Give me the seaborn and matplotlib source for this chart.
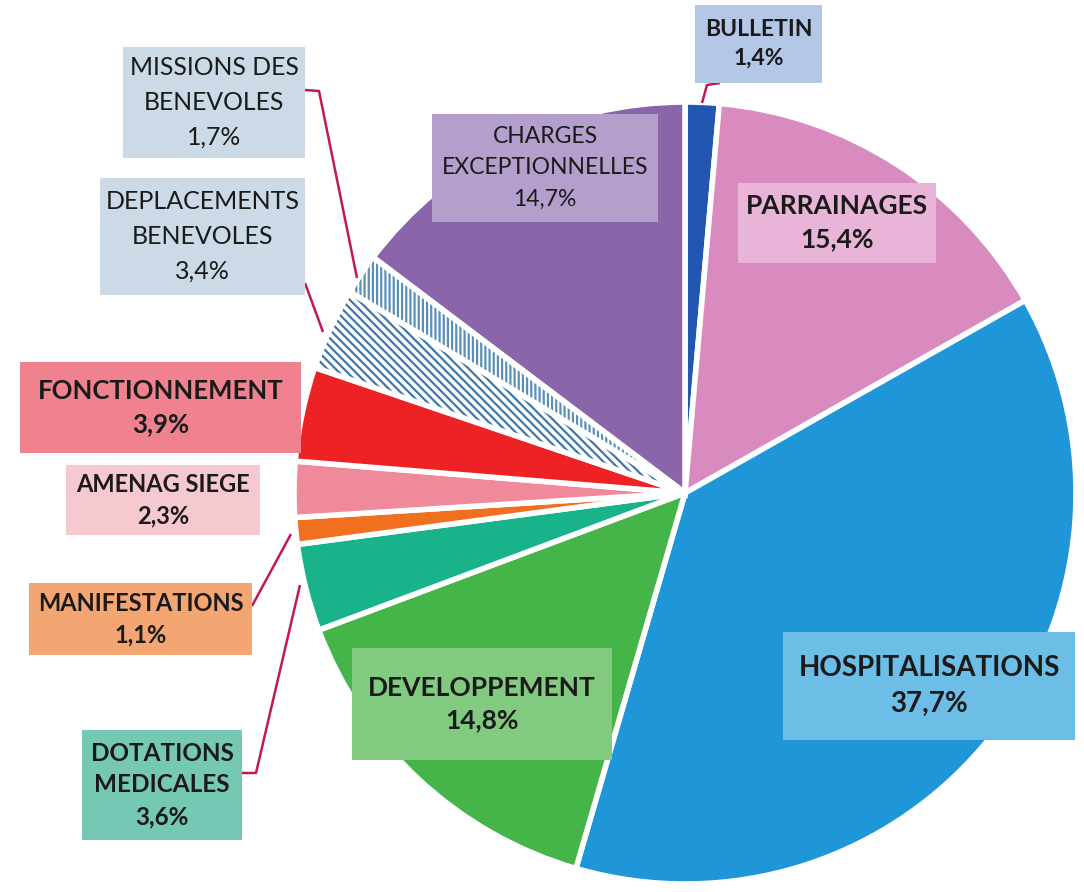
import matplotlib
matplotlib.use("Agg")
import matplotlib.pyplot as plt
import seaborn as sns
from matplotlib.patches import Wedge, FancyBboxPatch

# ---------------- data ----------------
categories = ["BULLETIN", "PARRAINAGES", "HOSPITALISATIONS", "DEVELOPPEMENT",
              "DOTATIONS\nMEDICALES", "MANIFESTATIONS", "AMENAG SIEGE",
              "FONCTIONNEMENT", "DEPLACEMENTS\nBENEVOLES",
              "MISSIONS DES\nBENEVOLES", "CHARGES\nEXCEPTIONNELLES"]
values = [1.4, 15.4, 37.7, 14.8, 3.6, 1.1, 2.3, 3.9, 3.4, 1.7, 14.7]
pct_labels = ["1,4%", "15,4%", "37,7%", "14,8%", "3,6%", "1,1%", "2,3%",
              "3,9%", "3,4%", "1,7%", "14,7%"]

slice_colors = ["#2157b0", "#d98bbf", "#1e96d8", "#45b549", "#18b38b",
                "#f07020", "#f08a9a", "#ee2225", "#ffffff", "#ffffff", "#8b65a9"]
box_colors = ["#b5c7e7", "#e8b5d8", "#6dbee7", "#82ca80", "#75c8b3",
              "#f3a672", "#f6c9d1", "#f0818f", "#cbdae6", "#cbdae6", "#b49ecb"]
bold = [True, True, True, True, True, True, True, True, False, False, False]
hatches = [None, None, None, None, None, None, None, None,
           "\\\\\\\\", "||||", None]

# ---------------- figure ----------------
sns.set_theme(style="white")
plt.rcParams["font.family"] = ["Lato", "DejaVu Sans"]
plt.rcParams["hatch.linewidth"] = 1.6

W, H = 1084, 892
fig = plt.figure(figsize=(W / 100, H / 100), dpi=100)
ax = fig.add_axes([0, 0, 1, 1])

def Y(y):
    return H - y

cx, cy, R = 685, Y(493), 391
explode = [0, 0.014, 0.014, 0, 0, 0, 0, 0, 0, 0, 0]
pal = sns.color_palette(slice_colors)
wedges, _ = ax.pie(values, colors=pal, startangle=90, counterclock=False,
                   center=(cx, cy), radius=R, explode=explode,
                   wedgeprops=dict(edgecolor="white", linewidth=4))

hatch_col = ["", "", "", "", "", "", "", "", "#3f78a6", "#5a8fb8", ""]
for w, h, hc in zip(wedges, hatches, hatch_col):
    if h:
        w.set_hatch(h)
        w.set_edgecolor(hc)
        w.set_linewidth(0)
        ov = Wedge(w.center, w.r, w.theta1, w.theta2, fill=False,
                   edgecolor="white", linewidth=4, zorder=w.get_zorder() + 0.1)
        ax.add_patch(ov)

ax.set_xlim(0, W)
ax.set_ylim(0, H)
ax.set_aspect("equal")
ax.axis("off")

# ---------------- label boxes ----------------
# (x0, y0, x1, y1) in pixel coordinates (top-left origin) and font size
boxes = {
    0: (695, 5, 822, 83, 16.5),
    1: (738, 183, 936, 263, 19),
    2: (783, 632, 1075, 740, 20),
    3: (352, 648, 612, 760, 19),
    4: (82, 730, 242, 840, 17.5),
    5: (29, 583, 252, 655, 17),
    6: (66, 465, 260, 535, 17),
    7: (20, 362, 301, 453, 18.5),
    8: (100, 178, 305, 295, 18),
    9: (123, 47, 305, 158, 17.8),
    10: (432, 114, 658, 222, 16.5),
}
for i, (x0, y0, x1, y1, fs) in boxes.items():
    ax.add_patch(FancyBboxPatch((x0, Y(y1)), x1 - x0, y1 - y0,
                                boxstyle="square,pad=0", facecolor=box_colors[i],
                                edgecolor="none", zorder=5))
    ax.text((x0 + x1) / 2, Y((y0 + y1) / 2), categories[i] + "\n" + pct_labels[i],
            ha="center", va="center", fontsize=fs,
            linespacing=1.45 if bold[i] else 1.62,
            fontweight="bold" if bold[i] else "normal", color="#1a1a1a",
            zorder=6)

# ---------------- leader lines ----------------
leader = "#c2185b"
lines = [
    [(720, 83), (707, 85), (702, 103)],          # bulletin
    [(305, 90), (319, 91), (357, 278)],          # missions
    [(305, 283), (323, 332)],                    # deplacements
    [(252, 606), (291, 534)],                    # manifestations
    [(242, 773), (256, 773), (300, 585)],        # dotations
]
for pts in lines:
    xs = [p[0] for p in pts]
    ys = [Y(p[1]) for p in pts]
    ax.plot(xs, ys, color=leader, lw=1.8, zorder=4, solid_capstyle="butt")

fig.savefig("out.png", dpi=100, facecolor="white")
